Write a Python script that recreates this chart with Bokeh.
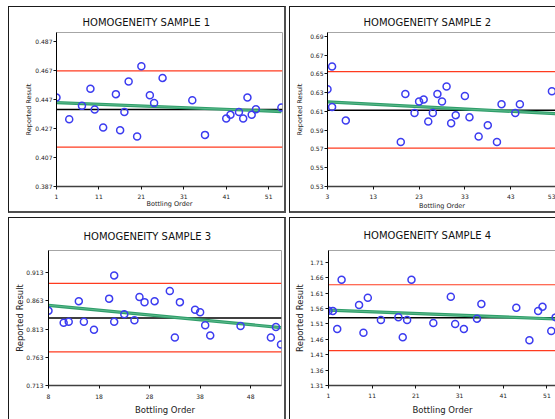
from bokeh.plotting import figure
from bokeh.layouts import row, column
from bokeh.models import FixedTicker, Span, PrintfTickFormatter, Range1d
from bokeh.embed import file_html
from bokeh.resources import INLINE

FONT = "DejaVu Sans"
RED = "#ff3b1f"
BLUE = "#3c3cf0"
GREEN = "#2f9e6a"

titles = ["HOMOGENEITY SAMPLE 1", "HOMOGENEITY SAMPLE 2",
          "HOMOGENEITY SAMPLE 3", "HOMOGENEITY SAMPLE 4"]
x_title = "Bottling Order"
y_title = "Reported Result"

# ---- Sample 1
s1_order = [1, 4, 7, 9, 10, 12, 15, 16, 17, 18, 20, 21, 23, 24, 26, 33, 36, 41, 42, 44, 45, 46, 47, 48, 54]
s1_result = [0.4484, 0.4334, 0.4426, 0.4544, 0.4401, 0.4277, 0.4507, 0.4258, 0.4383, 0.4594, 0.4214, 0.4700,
             0.4500, 0.4445, 0.4619, 0.4465, 0.4226, 0.4339, 0.4364, 0.4383, 0.4339, 0.4484, 0.4364, 0.4403, 0.4415]
s1_upper, s1_lower, s1_mean = 0.4668, 0.4141, 0.4401
s1_trend_x = [1, 54]
s1_trend_y = [0.4449, 0.4387]
s1_xticks = [1, 11, 21, 31, 41, 51]
s1_yticks = [0.387, 0.407, 0.427, 0.447, 0.467, 0.487]

# ---- Sample 2
s2_order = [3, 4, 4, 7, 19, 20, 22, 23, 24, 25, 26, 27, 28, 29, 30, 31, 33, 34, 36, 38, 40, 41, 44, 45, 52]
s2_result = [0.6335, 0.6578, 0.6147, 0.6002, 0.5774, 0.6285, 0.6082, 0.6205, 0.6227, 0.5991, 0.6082, 0.6285,
             0.6205, 0.6364, 0.5973, 0.6060, 0.6263, 0.6038, 0.5832, 0.5952, 0.5774, 0.6176, 0.6082, 0.6176, 0.6314]
s2_upper, s2_lower, s2_mean = 0.6524, 0.5709, 0.6111
s2_trend_x = [3, 53]
s2_trend_y = [0.6201, 0.6075]
s2_xticks = [3, 13, 23, 33, 43, 53]
s2_yticks = [0.53, 0.55, 0.57, 0.59, 0.61, 0.63, 0.65, 0.67, 0.69]

# ---- Sample 3
s3_order = [8, 11, 12, 14, 15, 17, 20, 21, 21, 23, 25, 26, 27, 29, 32, 33, 34, 37, 38, 39, 40, 46, 52, 53, 54]
s3_result = [0.8454, 0.8240, 0.8257, 0.8623, 0.8257, 0.8116, 0.8668, 0.9079, 0.8257, 0.8392, 0.8285, 0.8696,
             0.8606, 0.8623, 0.8803, 0.7981, 0.8606, 0.8471, 0.8426, 0.8195, 0.8014, 0.8184, 0.7981, 0.8167, 0.7857]
s3_upper, s3_lower, s3_mean = 0.8938, 0.7727, 0.8324
s3_trend_x = [8, 54]
s3_trend_y = [0.8550, 0.8155]
s3_xticks = [8, 18, 28, 38, 48]
s3_yticks = [0.713, 0.763, 0.813, 0.863, 0.913]

# ---- Sample 4
s4_order = [1, 2, 3, 4, 8, 9, 10, 13, 17, 18, 19, 20, 25, 29, 30, 32, 35, 36, 44, 47, 49, 50, 52, 53]
s4_result = [1.5532, 1.5522, 1.4938, 1.6538, 1.5716, 1.4819, 1.5954, 1.5230, 1.5316, 1.4668, 1.5230, 1.6538,
             1.5132, 1.5986, 1.5100, 1.4938, 1.5273, 1.5749, 1.5630, 1.4570, 1.5522, 1.5662, 1.4873, 1.5316]
s4_upper, s4_lower, s4_mean = 1.6376, 1.4235, 1.5305
s4_trend_x = [1, 53]
s4_trend_y = [1.5554, 1.5262]
s4_xticks = [1, 11, 21, 31, 41, 51]
s4_yticks = [1.31, 1.36, 1.41, 1.46, 1.51, 1.56, 1.61, 1.66, 1.71]


def panel(title, xs, ys, upper, lower, mean, tx, ty, xticks, yticks, fmt,
          xr, yr, w, h, borders, title_offset, title_standoff, tick_fs, lab_fs,
          xstand, ystand, css):
    p = figure(width=w, height=h, x_range=Range1d(*xr), y_range=Range1d(*yr),
               output_backend="svg", toolbar_location=None,
               min_border_left=borders[0], min_border_right=borders[1],
               min_border_top=borders[2], min_border_bottom=borders[3],
               styles=css)
    p.title.text = title
    p.title.align = "left"
    p.title.offset = title_offset
    try:
        p.title.standoff = title_standoff
    except AttributeError:
        pass
    p.title.text_font = FONT
    p.title.text_font_size = "10px"
    p.title.text_font_style = "normal"
    p.title.text_color = "#111111"
    p.background_fill_color = "white"
    p.border_fill_color = "white"
    p.outline_line_color = "#a6a6a6"
    p.outline_line_width = 1
    p.xgrid.visible = False
    p.ygrid.visible = False

    for ax in (p.xaxis[0], p.yaxis[0]):
        ax.major_tick_out = 3
        ax.major_tick_in = 0
        ax.minor_tick_out = 0
        ax.minor_tick_in = 0
        ax.major_label_text_font = FONT
        ax.major_label_text_font_size = tick_fs
        ax.major_label_text_color = "#222222"
        ax.axis_label_text_font = FONT
        ax.axis_label_text_font_size = lab_fs
        ax.axis_label_text_font_style = "normal"
        ax.axis_label_text_color = "#222222"
        ax.major_tick_line_color = "#111111"

    p.xaxis.ticker = FixedTicker(ticks=xticks)
    p.yaxis.ticker = FixedTicker(ticks=yticks)
    p.yaxis.formatter = PrintfTickFormatter(format=fmt)
    p.xaxis.axis_label = x_title
    p.yaxis.axis_label = y_title
    p.xaxis.axis_line_color = "#404040"
    p.xaxis.axis_line_width = 1.5
    p.yaxis.axis_line_color = "#000000"
    p.xaxis.major_label_standoff = xstand[0]
    p.xaxis.axis_label_standoff = xstand[1]
    p.yaxis.major_label_standoff = ystand[0]
    p.yaxis.axis_label_standoff = ystand[1]

    for loc, col, lw in ((upper, RED, 1.2), (lower, RED, 1.2), (mean, "#000000", 1.5)):
        p.add_layout(Span(location=loc, dimension="width", line_color=col,
                          line_width=lw, level="underlay"))
    p.line(tx, ty, line_color=GREEN, line_width=3.2)
    p.line(tx, ty, line_color="#7fcfa6", line_width=0.8, line_alpha=0.7)
    p.scatter(xs, ys, marker="circle", size=7, fill_color=None,
              line_color=BLUE, line_width=1.5)
    return p


def css(top=True, left=True, right=True, bottom=True):
    s = {"box-sizing": "content-box"}
    if top:
        s["border-top"] = "1px solid #1a1a1a"
    if left:
        s["border-left"] = "1px solid #1a1a1a"
    if right:
        s["border-right"] = "2px solid #505050"
    if bottom:
        s["border-bottom"] = "2px solid #505050"
    return s


p1 = panel(titles[0], s1_order, s1_result, s1_upper, s1_lower, s1_mean, s1_trend_x, s1_trend_y,
           s1_xticks, s1_yticks, "%.3f", (1, 54.26), (0.387, 0.4932), 275, 204,
           (47, 5, 25, 25), 26, 10, "6px", "6.5px", (4, -2), (1, -1), css())
p2 = panel(titles[1], s2_order, s2_result, s2_upper, s2_lower, s2_mean, s2_trend_x, s2_trend_y,
           s2_xticks, s2_yticks, "%.2f", (3, 53.0), (0.53, 0.694), 265, 204,
           (37, 0, 25, 28), 36, 10, "6px", "6.5px", (4, 0), (1, 3), css(right=False))
p3 = panel(titles[2], s3_order, s3_result, s3_upper, s3_lower, s3_mean, s3_trend_x, s3_trend_y,
           s3_xticks, s3_yticks, "%.3f", (8, 54.1), (0.713, 0.952), 275, 201,
           (39, 6, 30, 30), 35, 18, "6px", "8.5px", (5, 3), (2, -2), css(bottom=False))
p4 = panel(titles[3], s4_order, s4_result, s4_upper, s4_lower, s4_mean, s4_trend_x, s4_trend_y,
           s4_xticks, s4_yticks, "%.2f", (1, 53.2), (1.31, 1.749), 265, 201,
           (38, 0, 31, 35), 35, 19, "6px", "8.5px", (4, 4), (2, 2), css(right=False, bottom=False))

layout = column(row(p1, p2, spacing=3), row(p3, p4, spacing=3), spacing=4,
                styles={"margin-top": "6px", "margin-left": "8px"})

open("out.html", "w").write(file_html(layout, INLINE))
